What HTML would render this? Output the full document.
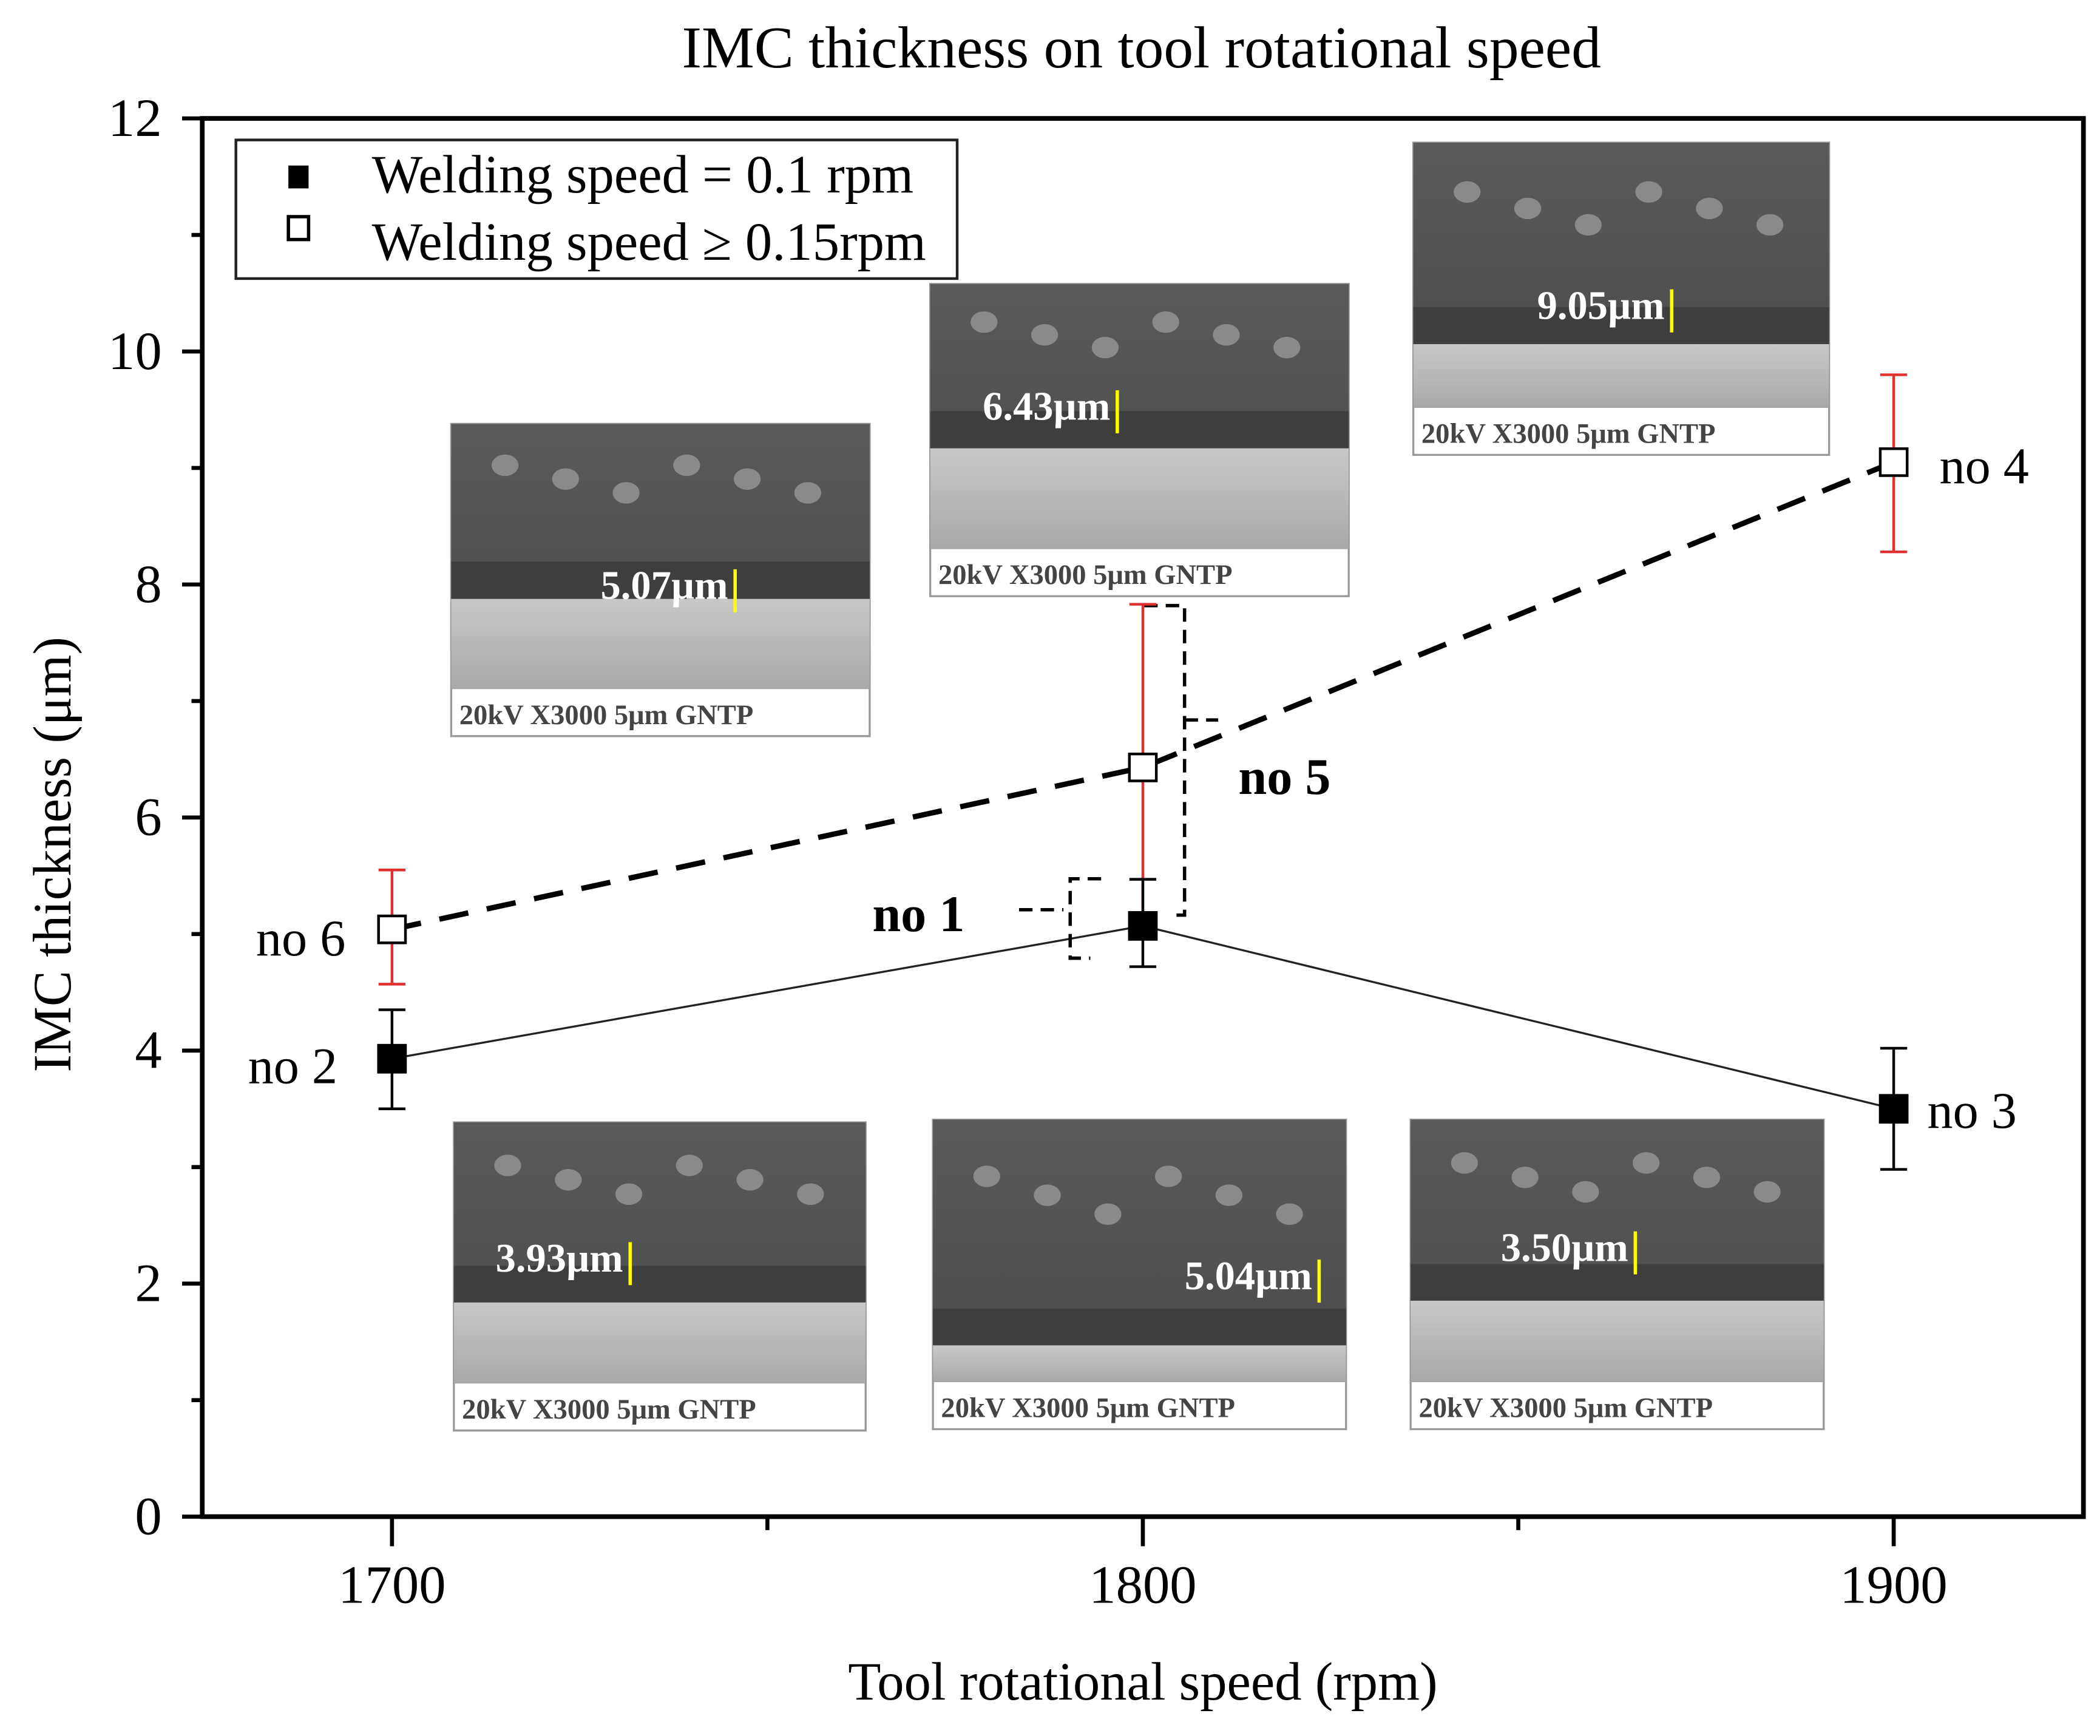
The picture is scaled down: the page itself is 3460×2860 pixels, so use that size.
<!DOCTYPE html>
<html><head><meta charset="utf-8"><style>
html,body{margin:0;padding:0;background:#fff}
svg{display:block}
text{font-family:"Liberation Serif",serif}
</style></head><body>
<svg id="chart" width="3460" height="2860" viewBox="0 0 1560 1290" xmlns="http://www.w3.org/2000/svg">
<defs>
<linearGradient id="semTop" x1="0" y1="0" x2="0" y2="1"><stop offset="0" stop-color="#5a5a5a"/><stop offset="1" stop-color="#4a4a4a"/></linearGradient>
<linearGradient id="semBot" x1="0" y1="0" x2="0" y2="1"><stop offset="0" stop-color="#c8c8c8"/><stop offset="1" stop-color="#a8a8a8"/></linearGradient>
</defs>
<text x="848" y="50" font-size="44" text-anchor="middle">IMC thickness  on tool rotational speed</text>
<g id="axes"></g>
<g id="images"></g>
<g id="series"></g>
<g>
<rect x="175" y="104" width="536" height="103" fill="#fff" stroke="#222" stroke-width="2"/>
<rect x="214" y="123" width="15" height="17" fill="#000"/>
<rect x="214" y="161" width="15" height="17" fill="#fff" stroke="#000" stroke-width="2.5"/>
<text x="276" y="143" font-size="40">Welding speed = 0.1 rpm</text>
<text x="276" y="193" font-size="40">Welding speed ≥ 0.15rpm</text>
</g>
<text x="849" y="1263" font-size="40" text-anchor="middle">Tool rotational speed (rpm)</text>
<text x="52" y="635" font-size="40" text-anchor="middle" transform="rotate(-90 52 635)">IMC thickness (μm)</text>
</svg>
<script>
const xCats=[1700,1800,1900];
const filledVals=[3.93,5.07,3.50];
const filledLo=[3.50,4.72,2.98];
const filledHi=[4.35,5.47,4.02];
const openVals=[5.04,6.43,9.05];
const openLo=[4.57,5.05,8.28];
const openHi=[5.55,7.83,9.80];
const pointLabels=["no 2","no 1","no 3"];
const openLabels=["no 6","no 5","no 4"];
const yTicks=[0,2,4,6,8,10,12];
const xTicks=[1700,1800,1900];
const semLabels=["5.07µm","6.43µm","9.05µm","3.93µm","5.04µm","3.50µm"];

const NS="http://www.w3.org/2000/svg";
const L=150,R=1548,T=88,B=1127;
const X=v=>291+(v-1700)*5.58;
const Y=v=>B-(v/12)*(B-T);
function mk(tag,attrs,parent,txt){const e=document.createElementNS(NS,tag);for(const k in attrs)e.setAttribute(k,attrs[k]);if(txt!==undefined)e.textContent=txt;parent.appendChild(e);return e;}
const axes=document.getElementById('axes');
let fr=mk('rect',{x:L,y:T,width:R-L,height:B-T,fill:'none',stroke:'#000','stroke-width':3.5},axes);


for(let v=0;v<=12;v++){
  let t=mk('line',{x1:L,x2:L-(v%2?8:15),y1:Y(v),y2:Y(v),stroke:'#000','stroke-width':3},axes);
  
  
}
yTicks.forEach(v=>{
  let t=mk('text',{x:120,y:Y(v)+13,'font-size':40,'text-anchor':'end'},axes,String(v));
  
  
});
[1700,1750,1800,1850,1900].forEach(v=>{
  let t=mk('line',{x1:X(v),x2:X(v),y1:B,y2:B+(v%100?10:22),stroke:'#000','stroke-width':3},axes);
  
  
});
xTicks.forEach(v=>{
  let t=mk('text',{x:X(v),y:B+64,'font-size':40,'text-anchor':'middle'},axes,String(v));
  
  
});
const imgs=document.getElementById('images');
const boxes=[[335,315,311,232,0.52,446,445],[691,211,311,232,0.48,730,312],[1050,106,309,232,0.62,1142,237],[337,834,306,229,0.55,368,945],[693,832,307,230,0.72,880,958],[1048,832,307,230,0.55,1115,937]];
boxes.forEach((b,i)=>{
  const [x,y,w,h,f,lx,ly]=b;
  const g=mk('g',{},imgs);
  
  
  const ih=h-35;
  mk('rect',{x:x,y:y,width:w,height:h,fill:'#fff',stroke:'#999','stroke-width':1.5},g);
  mk('rect',{x:x,y:y,width:w,height:ih,fill:'url(#semTop)'},g);
  mk('rect',{x:x,y:y+ih*f,width:w,height:ih*0.14,fill:'#3e3e3e'},g);
  mk('rect',{x:x,y:y+ih*(f+0.14),width:w,height:ih*(0.86-f),fill:'url(#semBot)'},g);
  for(let k=0;k<6;k++)mk('ellipse',{cx:x+40+k*45,cy:y+ih*f*(0.3+0.1*(k%3)),rx:10,ry:8,fill:'#8a8a8a'},g);
  mk('line',{x1:lx+100,x2:lx+100,y1:ly-22,y2:ly+10,stroke:'#ff0','stroke-width':2.5},g);
  mk('text',{x:lx,y:ly,'font-size':30,'font-weight':'bold',fill:'#fff'},g,semLabels[i]);
  mk('text',{x:x+6,y:y+h-9,'font-size':21,'font-weight':'bold',fill:'#444'},g,'20kV  X3000   5μm   GNTP');
});
const s=document.getElementById('series');
function path(vals){return vals.map((v,i)=>(i?'L':'M')+X(xCats[i])+','+Y(v)).join(' ');}
let l1=mk('path',{d:path(filledVals),fill:'none',stroke:'#222','stroke-width':1.5},s);


let l2=mk('path',{d:path(openVals),fill:'none',stroke:'#000','stroke-width':4,'stroke-dasharray':'22,14'},s);


let br=mk('path',{d:'M850,450 L880,450 L880,680 L868,680 M880,535 L905,535 M757,676 L790,676 M818,653 L795,653 L795,712 L810,712',fill:'none',stroke:'#000','stroke-width':2.5,'stroke-dasharray':'10,6'},s);


xCats.forEach((c,i)=>{
  const x=X(c);
  let e=mk('path',{d:`M${x},${Y(openLo[i])}V${Y(openHi[i])}M${x-10},${Y(openLo[i])}H${x+10}M${x-10},${Y(openHi[i])}H${x+10}`,stroke:'#e03030','stroke-width':2,fill:'none'},s);
  
  
  let e2=mk('path',{d:`M${x},${Y(filledLo[i])}V${Y(filledHi[i])}M${x-10},${Y(filledLo[i])}H${x+10}M${x-10},${Y(filledHi[i])}H${x+10}`,stroke:'#000','stroke-width':2,fill:'none'},s);
  
  
  let m=mk('rect',{x:x-10,y:Y(openVals[i])-10,width:20,height:20,fill:'#fff',stroke:'#000','stroke-width':2},s);
  
  
  let m2=mk('rect',{x:x-11,y:Y(filledVals[i])-11,width:22,height:22,fill:'#000'},s);
  
  
});
const lblPos=[[184,805,false],[648,692,true],[1432,838,false]];
const olblPos=[[190,710,false],[920,590,true],[1441,359,false]];
pointLabels.forEach((t,i)=>{const p=lblPos[i];let e=mk('text',{x:p[0],y:p[1],'font-size':38,'font-weight':p[2]?'bold':'normal'},s,t);
  
  });
openLabels.forEach((t,i)=>{const p=olblPos[i];let e=mk('text',{x:p[0],y:p[1],'font-size':38,'font-weight':p[2]?'bold':'normal'},s,t);
  
  });
</script>
</body></html>
